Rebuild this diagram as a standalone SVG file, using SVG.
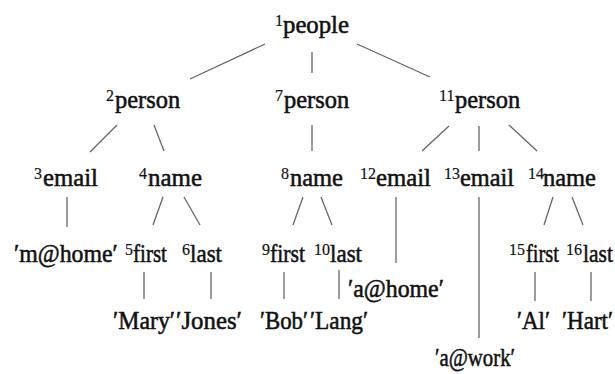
<svg xmlns="http://www.w3.org/2000/svg" width="615" height="374" viewBox="0 0 615 374">
  <style>
    .w { font-family: "Liberation Serif", "Times New Roman", serif; font-size: 26px; fill: #111; stroke: #111; stroke-width: 0.55px; }
    .s { font-family: "Liberation Serif", "Times New Roman", serif; font-size: 16px; fill: #111; stroke: #111; stroke-width: 0.2px; }
    .e line { stroke: #666; stroke-width: 1.3; stroke-linecap: butt; }
  </style>
  <rect width="615" height="374" fill="#fff"/>

  <!-- tree edges -->
  <g id="edges" class="e">
    <line x1="265" y1="44" x2="190" y2="79"/>
    <line x1="312" y1="52" x2="312" y2="73"/>
    <line x1="357" y1="44" x2="430" y2="77"/>
    <line x1="117" y1="125" x2="90" y2="152"/>
    <line x1="154" y1="125" x2="164" y2="151"/>
    <line x1="312" y1="125" x2="312" y2="151"/>
    <line x1="449" y1="126" x2="422" y2="151"/>
    <line x1="479" y1="126" x2="479" y2="151"/>
    <line x1="509" y1="125" x2="537" y2="151"/>
    <line x1="67" y1="197" x2="67" y2="227"/>
    <line x1="163" y1="197" x2="153" y2="225"/>
    <line x1="184" y1="197" x2="200" y2="225"/>
    <line x1="303" y1="197" x2="293" y2="225"/>
    <line x1="321" y1="197" x2="332" y2="225"/>
    <line x1="396" y1="197" x2="396" y2="263"/>
    <line x1="479" y1="197" x2="479" y2="338"/>
    <line x1="553" y1="197" x2="544" y2="225"/>
    <line x1="572" y1="197" x2="583" y2="225"/>
    <line x1="144" y1="272" x2="144" y2="299"/>
    <line x1="211" y1="272" x2="211" y2="299"/>
    <line x1="284" y1="272" x2="284" y2="299"/>
    <line x1="339" y1="270" x2="339" y2="299"/>
    <line x1="535" y1="272" x2="535" y2="301"/>
    <line x1="591" y1="272" x2="591" y2="301"/>
  </g>

  <!-- element nodes: small superscript number, then a slightly narrowed label -->
  <g id="n1"><text class="s" x="275" y="26">1</text><text class="w" transform="translate(283 33) scale(0.88 1)" textLength="75" lengthAdjust="spacingAndGlyphs">people</text></g>
  <g id="n2"><text class="s" x="106" y="101">2</text><text class="w" transform="translate(115 108) scale(0.88 1)" textLength="74" lengthAdjust="spacingAndGlyphs">person</text></g>
  <g id="n7"><text class="s" x="275" y="101">7</text><text class="w" transform="translate(284 108) scale(0.88 1)" textLength="74" lengthAdjust="spacingAndGlyphs">person</text></g>
  <g id="n11"><text class="s" x="439" y="101">11</text><text class="w" transform="translate(455 108) scale(0.88 1)" textLength="74" lengthAdjust="spacingAndGlyphs">person</text></g>
  <g id="n3"><text class="s" x="34" y="179">3</text><text class="w" transform="translate(43 186) scale(0.88 1)" textLength="62.5" lengthAdjust="spacingAndGlyphs">email</text></g>
  <g id="n4"><text class="s" x="139" y="179">4</text><text class="w" transform="translate(148 186) scale(0.88 1)" textLength="61.4" lengthAdjust="spacingAndGlyphs">name</text></g>
  <g id="n8"><text class="s" x="281" y="179">8</text><text class="w" transform="translate(290 186) scale(0.88 1)" textLength="60.2" lengthAdjust="spacingAndGlyphs">name</text></g>
  <g id="n12"><text class="s" x="360" y="179">12</text><text class="w" transform="translate(376 186) scale(0.88 1)" textLength="62.5" lengthAdjust="spacingAndGlyphs">email</text></g>
  <g id="n13"><text class="s" x="444" y="179">13</text><text class="w" transform="translate(460 186) scale(0.88 1)" textLength="61.4" lengthAdjust="spacingAndGlyphs">email</text></g>
  <g id="n14"><text class="s" x="528" y="179">14</text><text class="w" transform="translate(543 186) scale(0.88 1)" textLength="60.2" lengthAdjust="spacingAndGlyphs">name</text></g>
  <g id="n5"><text class="s" x="125" y="255">5</text><text class="w" transform="translate(133 262) scale(0.88 1)" textLength="38.6" lengthAdjust="spacingAndGlyphs">first</text></g>
  <g id="n6"><text class="s" x="182" y="255">6</text><text class="w" transform="translate(190 262) scale(0.88 1)" textLength="36.4" lengthAdjust="spacingAndGlyphs">last</text></g>
  <g id="n9"><text class="s" x="262" y="255">9</text><text class="w" transform="translate(270 262) scale(0.88 1)" textLength="39.8" lengthAdjust="spacingAndGlyphs">first</text></g>
  <g id="n10"><text class="s" x="314" y="255">10</text><text class="w" transform="translate(330 262) scale(0.88 1)" textLength="36.4" lengthAdjust="spacingAndGlyphs">last</text></g>
  <g id="n15"><text class="s" x="509" y="255">15</text><text class="w" transform="translate(526 262) scale(0.88 1)" textLength="37.5" lengthAdjust="spacingAndGlyphs">first</text></g>
  <g id="n16"><text class="s" x="566" y="255">16</text><text class="w" transform="translate(583 262) scale(0.88 1)" textLength="34" lengthAdjust="spacingAndGlyphs">last</text></g>

  <!-- value leaves -->
  <g id="v3"><text class="w" transform="translate(14 262) scale(0.88 1)" textLength="118" lengthAdjust="spacingAndGlyphs">′m@home′</text></g>
  <g id="v12"><text class="w" transform="translate(348 297) scale(0.88 1)" textLength="109" lengthAdjust="spacingAndGlyphs">′a@home′</text></g>
  <g id="v13"><text class="w" transform="translate(435 366) scale(0.88 1)" textLength="91" lengthAdjust="spacingAndGlyphs">′a@work′</text></g>
  <g id="v5"><text class="w" transform="translate(113 329) scale(0.88 1)" textLength="70.5" lengthAdjust="spacingAndGlyphs">′Mary′</text></g>
  <g id="v6"><text class="w" transform="translate(176 329) scale(0.88 1)" textLength="75" lengthAdjust="spacingAndGlyphs">′Jones′</text></g>
  <g id="v9"><text class="w" transform="translate(260 329) scale(0.88 1)" textLength="54.5" lengthAdjust="spacingAndGlyphs">′Bob′</text></g>
  <g id="v10"><text class="w" transform="translate(310 329) scale(0.88 1)" textLength="66" lengthAdjust="spacingAndGlyphs">′Lang′</text></g>
  <g id="v15"><text class="w" transform="translate(517 329) scale(0.88 1)" textLength="37.5" lengthAdjust="spacingAndGlyphs">′Al′</text></g>
  <g id="v16"><text class="w" transform="translate(562 329) scale(0.88 1)" textLength="58" lengthAdjust="spacingAndGlyphs">′Hart′</text></g>
</svg>
